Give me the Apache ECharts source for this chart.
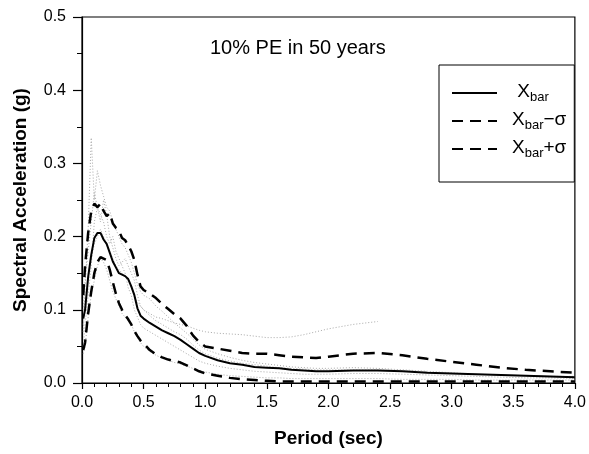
<!DOCTYPE html>
<html>
<head>
<meta charset="utf-8">
<script src="https://cdn.jsdelivr.net/npm/echarts@6/dist/echarts.min.js"></script>
<style>html,body{margin:0;padding:0;background:#fff}#c{width:589px;height:454px}</style>
</head>
<body>
<div id="c"></div>
<script>
const periods = [0.01,0.025,0.05,0.075,0.1,0.125,0.15,0.175,0.2,0.225,0.25,0.275,0.3,0.325,0.35,0.375,0.4,0.425,0.45,0.475,0.5,0.55,0.6,0.65,0.7,0.75,0.8,0.85,0.9,0.95,1.0,1.1,1.2,1.3,1.4,1.5,1.6,1.7,1.8,1.9,2.0,2.2,2.4,2.6,2.8,3.0,3.2,3.4,3.6,3.8,4.0];
const meanSA = [0.088,0.10,0.145,0.175,0.198,0.205,0.205,0.196,0.190,0.178,0.166,0.158,0.150,0.148,0.146,0.142,0.132,0.120,0.102,0.092,0.088,0.082,0.077,0.072,0.068,0.064,0.059,0.053,0.047,0.041,0.037,0.031,0.027,0.025,0.022,0.021,0.020,0.018,0.017,0.016,0.016,0.017,0.017,0.016,0.014,0.013,0.012,0.011,0.010,0.009,0.008];
const meanPlusSigma = [0.12,0.16,0.205,0.235,0.245,0.24,0.245,0.235,0.228,0.232,0.218,0.212,0.208,0.198,0.195,0.188,0.180,0.168,0.148,0.132,0.127,0.122,0.116,0.108,0.101,0.094,0.088,0.078,0.065,0.056,0.050,0.047,0.044,0.041,0.040,0.040,0.038,0.036,0.035,0.034,0.036,0.040,0.041,0.038,0.033,0.029,0.025,0.021,0.018,0.016,0.014];
const meanMinusSigma = [0.045,0.055,0.095,0.125,0.150,0.165,0.172,0.170,0.168,0.155,0.138,0.122,0.109,0.100,0.093,0.087,0.080,0.071,0.064,0.058,0.054,0.045,0.039,0.035,0.032,0.030,0.028,0.024,0.020,0.016,0.013,0.010,0.007,0.005,0.004,0.003,0.002,0.002,0.002,0.002,0.002,0.002,0.002,0.002,0.002,0.002,0.002,0.002,0.002,0.002,0.002];
const recordA = [0.07,0.13,0.21,0.335,0.25,0.29,0.27,0.255,0.24,0.235,0.22,0.21,0.20,0.19,0.185,0.175,0.165,0.15,0.135,0.125,0.12,0.115,0.105,0.098,0.09,0.082,0.075,0.068,0.06,0.052,0.046,0.04,0.035,0.031,0.028,0.026,0.024,0.022,0.021,0.02,0.02,0.021,0.02,0.018,0.016,0.014,0.012,0.011,0.01,0.009,0.008];
const recordB = [0.08,0.1,0.14,0.17,0.19,0.2,0.21,0.2,0.19,0.18,0.17,0.16,0.155,0.15,0.145,0.14,0.13,0.12,0.11,0.105,0.1,0.095,0.09,0.088,0.085,0.082,0.08,0.078,0.075,0.072,0.07,0.068,0.067,0.066,0.064,0.062,0.062,0.063,0.066,0.07,0.074,0.08,0.084,null,null,null,null,null,null,null,null];
const recordC = [0.05,0.08,0.12,0.16,0.22,0.24,0.23,0.22,0.2,0.19,0.2,0.18,0.17,0.16,0.15,0.13,0.12,0.1,0.09,0.08,0.075,0.07,0.065,0.06,0.055,0.05,0.045,0.04,0.035,0.03,0.027,0.023,0.02,0.018,0.016,0.015,0.014,0.013,0.012,0.012,0.012,0.013,0.013,0.012,0.011,0.01,0.009,0.008,0.007,0.007,0.006];
const recordD = [0.04,0.05,0.09,0.12,0.14,0.16,0.17,0.165,0.155,0.14,0.125,0.115,0.105,0.095,0.09,0.085,0.08,0.07,0.062,0.055,0.05,0.043,0.038,0.034,0.031,0.028,0.026,0.023,0.02,0.017,0.015,0.012,0.01,0.009,0.008,0.007,0.007,0.006,0.006,0.006,0.006,0.006,0.006,0.005,0.005,0.005,0.004,0.004,0.004,0.004,0.004];
const recordE = [0.1,0.14,0.18,0.22,0.26,0.24,0.22,0.25,0.23,0.2,0.185,0.17,0.16,0.165,0.17,0.16,0.15,0.14,0.12,0.105,0.1,0.092,0.085,0.08,0.075,0.07,0.066,0.06,0.052,0.045,0.04,0.034,0.03,0.027,0.025,0.023,0.021,0.02,0.019,0.018,0.018,0.018,0.018,0.017,0.015,0.013,0.012,0.011,0.01,0.009,0.009];
const records = [recordA, recordB, recordC, recordD, recordE];
const titleText = '10% PE in 50 years';
const xName = 'Period (sec)';
const yName = 'Spectral Acceleration (g)';

const pair = arr => periods.map((t, i) => [t, arr[i]]);
const FONT = 'Liberation Sans, Arial, sans-serif';

const series = records.map((r, i) => ({
  name: 'record' + (i + 1), type: 'line', data: pair(r), symbol: 'none', silent: true,
  connectNulls: false,
  itemStyle: { color: '#a8a8a8' },
  lineStyle: { color: '#a8a8a8', width: 1, type: [1, 2] }, z: 1
}));
series.push(
  { name: 'mean', type: 'line', data: pair(meanSA), symbol: 'none', z: 3,
    itemStyle: { color: '#000' },
    lineStyle: { color: '#000', width: 2, type: 'solid' } },
  { name: 'minus', type: 'line', data: pair(meanMinusSigma), symbol: 'none', z: 3,
    itemStyle: { color: '#000' },
    lineStyle: { color: '#000', width: 2.5, type: [11, 7] } },
  { name: 'plus', type: 'line', data: pair(meanPlusSigma), symbol: 'none', z: 3,
    itemStyle: { color: '#000' },
    lineStyle: { color: '#000', width: 2.5, type: [11, 7] } }
);

const chart = echarts.init(document.getElementById('c'), null, { renderer: 'canvas' });
chart.setOption({
  animation: false,
  backgroundColor: '#fff',
  textStyle: { fontFamily: FONT, color: '#000' },
  title: { text: titleText, left: 205, top: 33, textStyle: { fontSize: 20, fontWeight: 'normal', color: '#000', fontFamily: FONT } },
  grid: { left: 82, right: 14, top: 17, bottom: 71, show: true, borderColor: '#000', borderWidth: 1.2 },
  legend: {
    data: ['mean', 'minus', 'plus'],
    orient: 'vertical', left: 439, top: 65,
    padding: [16, 8, 22, 12], itemGap: 5, itemWidth: 45, itemHeight: 14,
    borderColor: '#000', borderWidth: 1, backgroundColor: '#fff',
    selectedMode: false, align: 'left',
    itemStyle: { opacity: 0 },
    formatter: function (n) {
      if (n === 'mean') return '{g|} {x|X}{s|bar}';
      if (n === 'minus') return '{g|}{x|X}{s|bar}{x|\u2212\u03c3}';
      return '{g|}{x|X}{s|bar}{x|+\u03c3}';
    },
    textStyle: {
      fontFamily: FONT, color: '#000', fontSize: 19,
      rich: {
        g: { width: 10 },
        x: { fontSize: 19, fontFamily: FONT, color: '#000', verticalAlign: 'top', lineHeight: 22 },
        s: { fontSize: 13, fontFamily: FONT, color: '#000', verticalAlign: 'bottom', lineHeight: 14, padding: [10, 0, 0, 0] }
      }
    }
  },
  xAxis: {
    type: 'value', min: 0, max: 4, interval: 0.5,
    name: xName, nameLocation: 'middle', nameGap: 46,
    nameTextStyle: { fontSize: 19, fontWeight: 'bold', color: '#000', fontFamily: FONT },
    axisLine: { show: true, onZero: false, lineStyle: { color: '#000', width: 1.2 } },
    axisTick: { show: true, inside: false, length: 6, lineStyle: { color: '#000', width: 1.2 } },
    minorTick: { show: true, splitNumber: 5, length: 4, lineStyle: { color: '#000', width: 1 } },
    axisLabel: { fontSize: 16, color: '#000', margin: 12, fontFamily: FONT, formatter: v => v.toFixed(1) },
    splitLine: { show: false }
  },
  yAxis: {
    type: 'value', min: 0, max: 0.5, interval: 0.1,
    name: yName, nameLocation: 'middle', nameGap: 52,
    nameTextStyle: { fontSize: 19, fontWeight: 'bold', color: '#000', fontFamily: FONT },
    axisLine: { show: true, lineStyle: { color: '#000', width: 1.2 } },
    axisTick: { show: true, inside: false, length: 9, lineStyle: { color: '#000', width: 1.2 } },
    minorTick: { show: true, splitNumber: 2, length: 5, lineStyle: { color: '#000', width: 1 } },
    axisLabel: { fontSize: 16, color: '#000', margin: 16, fontFamily: FONT, formatter: v => v.toFixed(1) },
    splitLine: { show: false }
  },
  series: series
});
</script>
</body>
</html>
